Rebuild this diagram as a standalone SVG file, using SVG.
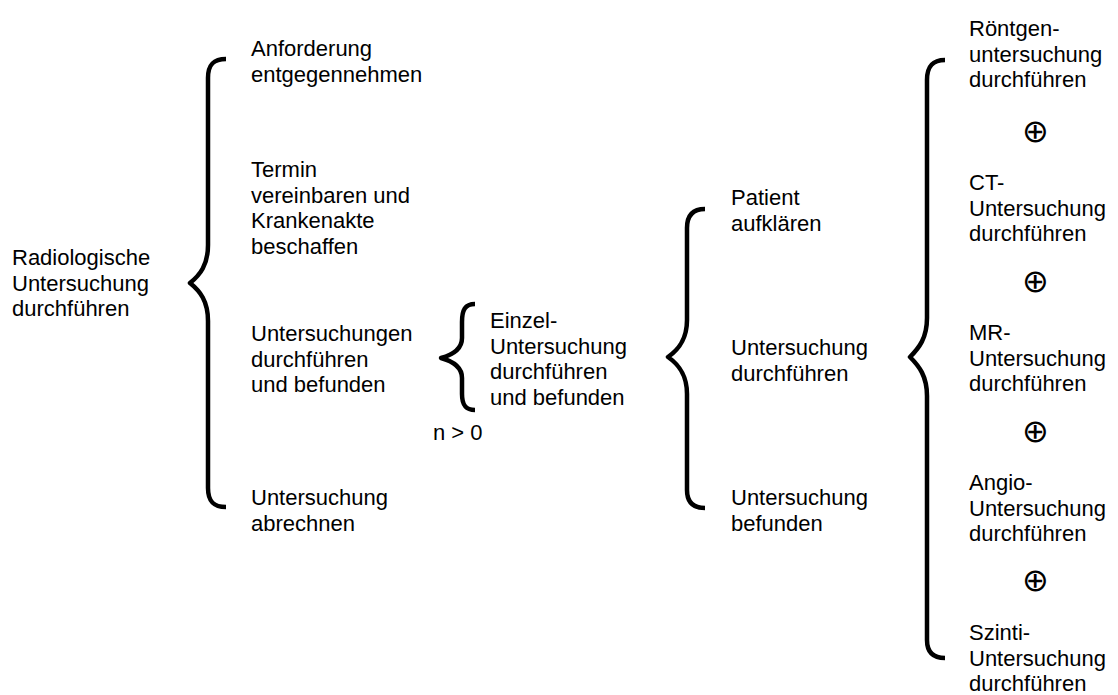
<svg xmlns="http://www.w3.org/2000/svg" width="1118" height="695" viewBox="0 0 1118 695">
  <style>
    .lbl { font-family: "Liberation Sans", Arial, sans-serif; font-size: 22px; fill: #000; }
    .xor { font-family: "DejaVu Sans", sans-serif; font-size: 32px; fill: #000; text-anchor: middle; }
    .brace { fill: none; stroke: #000; stroke-width: 4.5; stroke-linecap: butt; stroke-linejoin: round; }
  </style>
  <rect width="1118" height="695" fill="#fff"/>

  <!-- braces joining each activity to its parts -->
  <g id="connectors">
    <path class="brace" d="M226,59 C214,59 208,64 208,78 L208,245 C208,265 200,275 190,283 C200,291 208,301 208,321 L208,488 C208,502 214,507 226,507"/>
    <path class="brace" d="M475,304 C465,304 462,310 462,322 L462,338 C462,350 452,355 441,358 C452,361 462,366 462,378 L462,394 C462,404 465,410 475,410"/>
    <path class="brace" d="M705,209 C693,209 687,215 687,228 L687,320 C687,340 678,350 668,357 C678,364 687,374 687,394 L687,490 C687,502 693,508 705,508"/>
    <path class="brace" d="M945,60 C933,60 927,66 927,80 L927,318 C927,338 919,348 910,357 C919,366 927,376 927,396 L927,640 C927,652 933,658 945,658"/>
  </g>

  <g id="radiologische-untersuchung">
    <text class="lbl" x="12" y="265">Radiologische<tspan x="12" dy="25.7">Untersuchung</tspan><tspan x="12" dy="25.7">durchführen</tspan></text>
  </g>

  <g id="anforderung">
    <text class="lbl" x="251" y="56">Anforderung<tspan x="251" dy="25.7">entgegennehmen</tspan></text>
  </g>
  <g id="termin">
    <text class="lbl" x="251" y="177">Termin<tspan x="251" dy="25.7">vereinbaren und</tspan><tspan x="251" dy="25.7">Krankenakte</tspan><tspan x="251" dy="25.7">beschaffen</tspan></text>
  </g>
  <g id="untersuchungen">
    <text class="lbl" x="251" y="341">Untersuchungen<tspan x="251" dy="25.7">durchführen</tspan><tspan x="251" dy="25.7">und befunden</tspan></text>
  </g>
  <g id="abrechnen">
    <text class="lbl" x="251" y="505">Untersuchung<tspan x="251" dy="25.7">abrechnen</tspan></text>
  </g>

  <g id="einzel-untersuchung">
    <text class="lbl" x="490" y="328">Einzel-<tspan x="490" dy="25.7">Untersuchung</tspan><tspan x="490" dy="25.7">durchführen</tspan><tspan x="490" dy="25.7">und befunden</tspan></text>
  </g>
  <g id="kardinalitaet">
    <text class="lbl" x="433" y="440">n &gt; 0</text>
  </g>

  <g id="patient-aufklaeren">
    <text class="lbl" x="731" y="205">Patient<tspan x="731" dy="25.7">aufklären</tspan></text>
  </g>
  <g id="untersuchung-durchfuehren">
    <text class="lbl" x="731" y="355">Untersuchung<tspan x="731" dy="25.7">durchführen</tspan></text>
  </g>
  <g id="untersuchung-befunden">
    <text class="lbl" x="731" y="505">Untersuchung<tspan x="731" dy="25.7">befunden</tspan></text>
  </g>

  <g id="roentgen">
    <text class="lbl" x="969" y="36">Röntgen-<tspan x="969" dy="25.7">untersuchung</tspan><tspan x="969" dy="25.7">durchführen</tspan></text>
  </g>
  <g id="xor-1"><text class="xor" x="1035.5" y="142">⊕</text></g>
  <g id="ct">
    <text class="lbl" x="969" y="190">CT-<tspan x="969" dy="25.7">Untersuchung</tspan><tspan x="969" dy="25.7">durchführen</tspan></text>
  </g>
  <g id="xor-2"><text class="xor" x="1035.5" y="292">⊕</text></g>
  <g id="mr">
    <text class="lbl" x="969" y="340">MR-<tspan x="969" dy="25.7">Untersuchung</tspan><tspan x="969" dy="25.7">durchführen</tspan></text>
  </g>
  <g id="xor-3"><text class="xor" x="1035.5" y="442">⊕</text></g>
  <g id="angio">
    <text class="lbl" x="969" y="490">Angio-<tspan x="969" dy="25.7">Untersuchung</tspan><tspan x="969" dy="25.7">durchführen</tspan></text>
  </g>
  <g id="xor-4"><text class="xor" x="1035.5" y="591">⊕</text></g>
  <g id="szinti">
    <text class="lbl" x="969" y="640">Szinti-<tspan x="969" dy="25.7">Untersuchung</tspan><tspan x="969" dy="25.7">durchführen</tspan></text>
  </g>
</svg>
